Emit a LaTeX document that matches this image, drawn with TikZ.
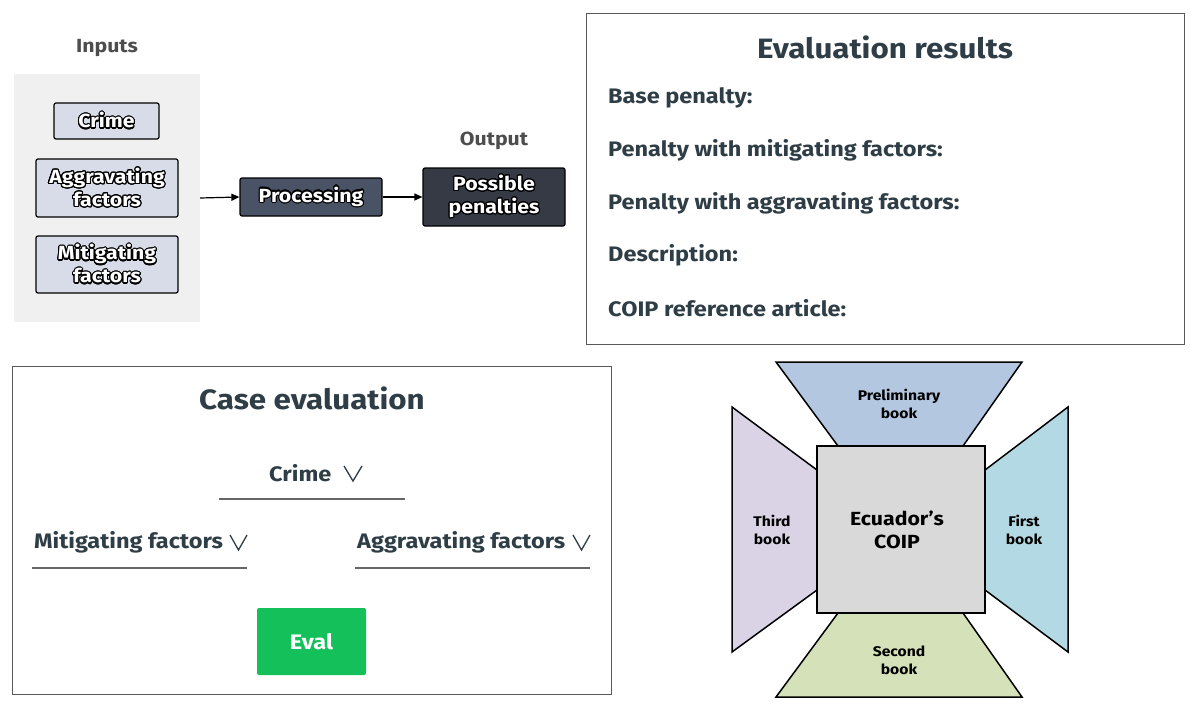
\documentclass[tikz,border=0pt]{standalone}
\usepackage{fontspec}
\setmainfont{Fira Sans}[FakeStretch=1.12]
\usepackage{contour}
\contourlength{1.1pt}
\contournumber{24}
\usetikzlibrary{arrows.meta}
\definecolor{slate}{HTML}{2F3E46}
\definecolor{labelgray}{HTML}{4D4D4D}
\definecolor{panelgray}{HTML}{F0F0F0}
\definecolor{inputfill}{HTML}{D7DCE8}
\definecolor{procfill}{HTML}{4A5266}
\definecolor{outfill}{HTML}{353A45}
\definecolor{evalgreen}{HTML}{14C05A}
\definecolor{coipgray}{HTML}{D9D9D9}
\definecolor{prelimblue}{HTML}{B3C7E0}
\definecolor{secondgreen}{HTML}{D5E1B8}
\definecolor{thirdlilac}{HTML}{DAD2E5}
\definecolor{firstcyan}{HTML}{B3DAE4}
\newcommand{\outl}[1]{\contour{black}{#1}}
\newcommand{\fsz}[2]{\fontsize{#1}{#2}\selectfont}
\tikzset{
  inputbox/.style={draw=black,line width=1.2pt,fill=inputfill,rounded corners=2pt,text=white,
    font=\bfseries\fsz{19}{23},align=center,inner sep=0pt},
  darkbox/.style={inputbox,fill=#1},
  flow/.style={line width=1.2pt,-{Triangle[length=8pt,width=7pt]}},
  panelbox/.style={draw=black!65,line width=1pt,fill=white,inner sep=0pt},
  title/.style={text=slate,font=\bfseries\fsz{28}{32}},
  item/.style={text=slate,font=\bfseries\fsz{21}{24},anchor=west,inner sep=0pt},
  uline/.style={draw=black!60,line width=1.2pt},
  chevron/.style={draw=slate,line width=1.3pt,line join=miter},
  book/.style={draw=black,line width=1.5pt,line join=miter},
  booklabel/.style={font=\bfseries\fsz{14}{18},align=center}
}
\begin{document}
\begin{tikzpicture}[x=1pt,y=-1pt]
\useasboundingbox (0,0) rectangle (1200,709);

\node[text=labelgray,font=\bfseries\fsz{19}{22}] (inlabel) at (107,48) {Inputs};
\node[fill=panelgray,minimum width=186,minimum height=248,inner sep=0pt] (inputs) at (107,198) {};
\node[inputbox,minimum width=105,minimum height=36] (crime) at (106.5,121) {\outl{Crime}};
\node[inputbox,minimum width=142,minimum height=58] (aggr) at (107,188) {\outl{Aggravating}\\\outl{factors}};
\node[inputbox,minimum width=142,minimum height=57] (miti) at (107,264.5) {\outl{Mitigating}\\\outl{factors}};
\node[darkbox=procfill,minimum width=142,minimum height=38] (proc) at (311,197) {\outl{Processing}};
\node[darkbox=outfill,minimum width=142,minimum height=58] (penal) at (494,197) {\outl{Possible}\\\outl{penalties}};
\node[text=labelgray,font=\bfseries\fsz{19}{22}] (outlabel) at (494,141) {Output};
\draw[flow] (inputs.east) -- (proc.west);
\draw[flow] (proc.east) -- (penal.west);

\node[panelbox,minimum width=598,minimum height=330] (results) at (885,179) {};
\node[title] (restitle) at (885,47) {Evaluation results};
\foreach \y/\t [count=\i] in {98/Base penalty:,150/Penalty with mitigating factors:,
    203/Penalty with aggravating factors:,255/Description:,308/COIP reference article:}
  \node[item] (res\i) at (608,\y) {\t};

\node[panelbox,minimum width=599,minimum height=328] (case) at (311.5,530) {};
\node[title] (casetitle) at (312,398) {Case evaluation};
\node[item] (crimesel) at (269,473) {Crime};
\draw[chevron] (344,466) -- (353,481) -- (362,466);
\draw[uline] (219,499) -- (405,499);
\node[item] (mitisel) at (34,542) {Mitigating factors};
\draw[chevron] (230,535) -- (238.5,550) -- (247,535);
\draw[uline] (32,568) -- (247,568);
\node[item] (aggrsel) at (357,542) {Aggravating factors};
\draw[chevron] (573,535) -- (581.5,550) -- (590,535);
\draw[uline] (355,568) -- (590,568);
\node[fill=evalgreen,rounded corners=2pt,minimum width=109,minimum height=67,inner sep=0pt,
  text=white,font=\bfseries\fsz{21}{24}] (evalbtn) at (311.5,641.5) {Eval};

\draw[book,fill=prelimblue] (776,362) -- (1022,362) -- (963,446) -- (838,446) -- cycle;
\draw[book,fill=secondgreen] (838,613) -- (963,613) -- (1022,697) -- (776,697) -- cycle;
\draw[book,fill=thirdlilac] (732,407) -- (817,470) -- (817,590) -- (732,652) -- cycle;
\draw[book,fill=firstcyan] (1068,407) -- (985,470) -- (985,590) -- (1068,652) -- cycle;
\node[draw=black,line width=2pt,fill=coipgray,minimum width=168,minimum height=167,inner sep=0pt] (coip) at (901,529.5) {};
\node[font=\bfseries\fsz{19}{23},align=center] (coiplabel) at (897,530) {Ecuador’s\\COIP};
\node[booklabel] (prelim) at (899,404) {Preliminary\\book};
\node[booklabel] (third) at (772,530) {Third\\book};
\node[booklabel] (first) at (1024,530) {First\\book};
\node[booklabel] (second) at (899,660) {Second\\book};
\end{tikzpicture}
\end{document}
